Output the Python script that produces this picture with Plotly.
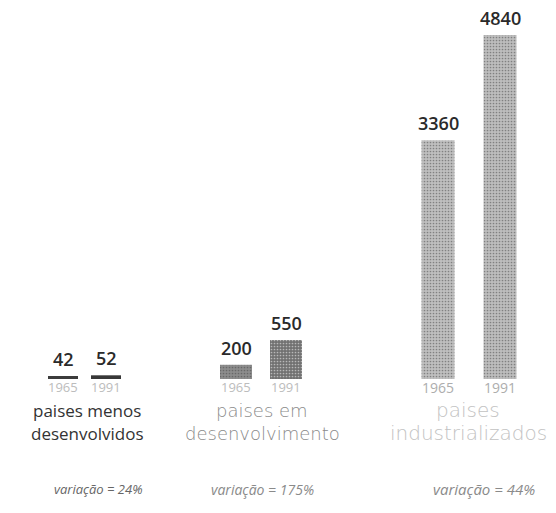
import plotly.graph_objects as go

# Energy consumption per capita, by country group
group_lines = [
    ["paises menos", "desenvolvidos"],
    ["paises em", "desenvolvimento"],
    ["paises", "industrializados"],
]
years = ["1965", "1991"]
values_1965 = [42, 200, 3360]
values_1991 = [52, 550, 4840]
variation = ["variação = 24%", "variação = 175%", "variação = 44%"]

# layout constants (x in pixel-like axis units)
W, H = 556, 513
x_1965 = [63, 236, 438]
x_1991 = [106, 286, 500]
bar_w = [30, 32, 33]
col_1965 = ["#3c3c3c", "#8c8c8c", "#bfbfbf"]
col_1991 = ["#383838", "#717171", "#bdbdbd"]
dot_col = ["#3c3c3c", "#5e5e5e", "#989898"]
label_col = ["#333333", "#8a8a8a", "#c2c2c2"]
label_font = ["Open Sans", "DejaVu Sans", "DejaVu Sans"]
label_size = [17, 18, 20]
label_weight = [400, 200, 200]
year_col = ["#bcbcbc", "#bcbcbc", "#adadad"]
year_size = [13, 13, 14]
var_col = ["#666666", "#8a8a8a", "#8a8a8a"]
var_size = [13, 14, 15]
group_cx = [87, 262, 468]
var_cx = [98, 262, 484]

fig = go.Figure()

for i in range(3):
    fig.add_trace(go.Bar(
        x=[x_1965[i], x_1991[i]],
        y=[values_1965[i], values_1991[i]],
        width=[bar_w[i], bar_w[i]],
        marker=dict(color=[col_1965[i], col_1991[i]], line=dict(width=0),
                    pattern=dict(shape="." if i else "", size=3, solidity=0.25,
                                 fgcolor=dot_col[i], fillmode="overlay")),
        showlegend=False, hoverinfo="skip",
    ))

ann = []
value_font = dict(family="Open Sans", size=18, color="#2a2a2a", weight=600)
for i in range(3):
    for x, v in ((x_1965[i], values_1965[i]), (x_1991[i], values_1991[i])):
        ann.append(dict(x=x, y=v, text=str(v), showarrow=False, xanchor="center",
                        yanchor="bottom", yshift=3, font=value_font))
    for x, yr in ((x_1965[i], years[0]), (x_1991[i], years[1])):
        ann.append(dict(x=x, y=0, text=yr, showarrow=False, xanchor="center",
                        yanchor="top", yshift=3,
                        font=dict(family="Open Sans", size=year_size[i],
                                  color=year_col[i])))
    for k, line in enumerate(group_lines[i]):
        ann.append(dict(x=group_cx[i], y=0, text=line, showarrow=False,
                        xanchor="center", yanchor="middle", yshift=-31 - 23 * k,
                        font=dict(family=label_font[i], size=label_size[i],
                                  color=label_col[i], weight=label_weight[i])))
    ann.append(dict(x=var_cx[i], y=0, text="<i>" + variation[i] + "</i>",
                    showarrow=False, xanchor="center", yanchor="middle", yshift=-110,
                    font=dict(family="Open Sans", size=var_size[i], color=var_col[i])))

# y range chosen so the baseline sits near the lower third of the canvas
y_top_val = max(values_1991)
scale = y_top_val / 344.0
y0 = -134 * scale
y1 = y0 + H * scale

fig.update_layout(
    width=W, height=H,
    margin=dict(l=0, r=0, t=0, b=0),
    paper_bgcolor="white", plot_bgcolor="white",
    xaxis=dict(range=[0, W], visible=False, fixedrange=True),
    yaxis=dict(range=[y0, y1], visible=False, fixedrange=True),
    annotations=ann,
    barmode="overlay",
)

fig.write_html("out.html")
